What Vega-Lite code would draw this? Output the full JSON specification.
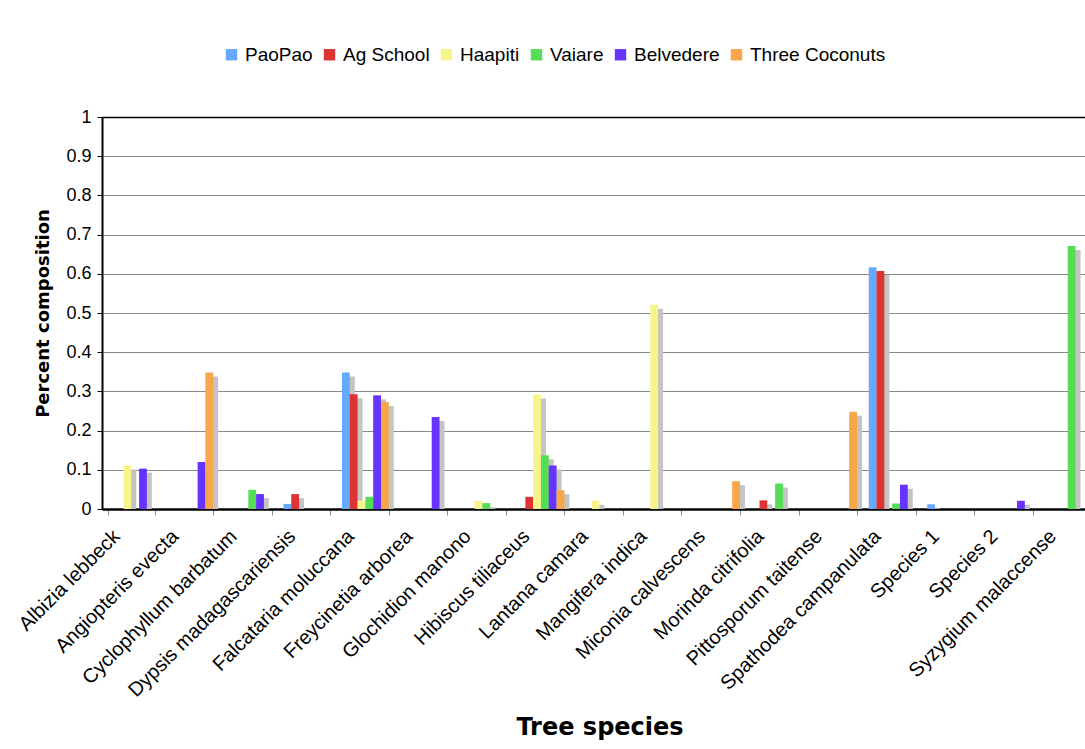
{
  "$schema": "https://vega.github.io/schema/vega-lite/v6.json",
  "width": 983,
  "height": 392,
  "autosize": {"type": "none"},
  "padding": {"left": 102, "top": 117, "right": 0, "bottom": 240},
  "background": "white",
  "config": {
    "view": {"stroke": null},
    "font": "Liberation Sans"
  },
  "data": {
    "values": [
      {"species": "Albizia lebbeck", "site": "Haapiti", "value": 0.111},
      {"species": "Albizia lebbeck", "site": "Belvedere", "value": 0.103},
      {"species": "Angiopteris evecta", "site": "Belvedere", "value": 0.12},
      {"species": "Angiopteris evecta", "site": "Three Coconuts", "value": 0.348},
      {"species": "Cyclophyllum barbatum", "site": "Vaiare", "value": 0.049},
      {"species": "Cyclophyllum barbatum", "site": "Belvedere", "value": 0.038},
      {"species": "Dypsis madagascariensis", "site": "PaoPao", "value": 0.013},
      {"species": "Dypsis madagascariensis", "site": "Ag School", "value": 0.038},
      {"species": "Falcataria moluccana", "site": "PaoPao", "value": 0.348},
      {"species": "Falcataria moluccana", "site": "Ag School", "value": 0.293},
      {"species": "Falcataria moluccana", "site": "Haapiti", "value": 0.021},
      {"species": "Falcataria moluccana", "site": "Vaiare", "value": 0.031},
      {"species": "Falcataria moluccana", "site": "Belvedere", "value": 0.29},
      {"species": "Falcataria moluccana", "site": "Three Coconuts", "value": 0.273},
      {"species": "Freycinetia arborea", "site": "Belvedere", "value": 0.235},
      {"species": "Glochidion manono", "site": "Haapiti", "value": 0.021},
      {"species": "Glochidion manono", "site": "Vaiare", "value": 0.015},
      {"species": "Hibiscus tiliaceus", "site": "Ag School", "value": 0.031},
      {"species": "Hibiscus tiliaceus", "site": "Haapiti", "value": 0.292},
      {"species": "Hibiscus tiliaceus", "site": "Vaiare", "value": 0.137},
      {"species": "Hibiscus tiliaceus", "site": "Belvedere", "value": 0.111},
      {"species": "Hibiscus tiliaceus", "site": "Three Coconuts", "value": 0.048},
      {"species": "Lantana camara", "site": "Haapiti", "value": 0.021},
      {"species": "Mangifera indica", "site": "Haapiti", "value": 0.521},
      {"species": "Miconia calvescens", "site": "Three Coconuts", "value": 0.071},
      {"species": "Morinda citrifolia", "site": "Ag School", "value": 0.022},
      {"species": "Morinda citrifolia", "site": "Vaiare", "value": 0.065},
      {"species": "Pittosporum taitense", "site": "Three Coconuts", "value": 0.248},
      {"species": "Spathodea campanulata", "site": "PaoPao", "value": 0.617},
      {"species": "Spathodea campanulata", "site": "Ag School", "value": 0.607},
      {"species": "Spathodea campanulata", "site": "Vaiare", "value": 0.014},
      {"species": "Spathodea campanulata", "site": "Belvedere", "value": 0.062},
      {"species": "Species 1", "site": "PaoPao", "value": 0.012},
      {"species": "Species 2", "site": "Belvedere", "value": 0.021},
      {"species": "Syzygium malaccense", "site": "Vaiare", "value": 0.671}
    ]
  },
  "encoding": {
    "x": {
      "field": "species",
      "type": "nominal",
      "scale": {
        "domain": ["Albizia lebbeck", "Angiopteris evecta", "Cyclophyllum barbatum", "Dypsis madagascariensis", "Falcataria moluccana", "Freycinetia arborea", "Glochidion manono", "Hibiscus tiliaceus", "Lantana camara", "Mangifera indica", "Miconia calvescens", "Morinda citrifolia", "Pittosporum taitense", "Spathodea campanulata", "Species 1", "Species 2", "Syzygium malaccense"],
        "range": [0, 995],
        "paddingInner": 0.2,
        "paddingOuter": 0.1
      },
      "axis": {
        "title": "Tree species",
        "titleFont": "DejaVu Sans",
        "titleFontSize": 24,
        "titleFontWeight": "bold",
        "titleColor": "black",
        "titlePadding": 15,
        "labelAngle": -45,
        "labelAlign": "right",
        "labelBaseline": "middle",
        "labelFontSize": 20,
        "labelColor": "black",
        "labelPadding": 18,
        "labelOffset": -15,
        "labelLimit": 0,
        "labelOverlap": false,
        "tickBand": "extent",
        "tickColor": "#888888",
        "tickSize": 6,
        "domainColor": "black",
        "domainWidth": 2.5,
        "grid": false
      }
    },
    "y": {
      "field": "value",
      "type": "quantitative",
      "scale": {"domain": [0, 1], "nice": false},
      "axis": {
        "title": "Percent composition",
        "titleFont": "DejaVu Sans",
        "titleFontSize": 18,
        "titleFontWeight": "bold",
        "titleColor": "black",
        "titlePadding": 13,
        "values": [0, 0.1, 0.2, 0.3, 0.4, 0.5, 0.6, 0.7, 0.8, 0.9, 1],
        "format": "~g",
        "labelFontSize": 18,
        "labelColor": "black",
        "labelPadding": 6,
        "tickSize": 5,
        "tickColor": "black",
        "domainColor": "black",
        "domainWidth": 2,
        "grid": true,
        "gridColor": {"condition": {"test": "datum.value === 1", "value": "black"}, "value": "#8a8a8a"},
        "gridWidth": {"condition": {"test": "datum.value === 1", "value": 1.5}, "value": 1}
      }
    }
  },
  "layer": [
    {
      "mark": {"type": "bar", "color": "#c4c4c4", "yOffset": 4, "y2Offset": 0},
      "encoding": {
        "xOffset": {
          "field": "site",
          "type": "nominal",
          "scale": {"domain": ["PaoPao", "Ag School", "Haapiti", "Vaiare", "Belvedere", "Three Coconuts"], "range": [5, 51.8], "paddingInner": 0, "paddingOuter": 0}
        },
        "y2": {"datum": 0}
      }
    },
    {
      "mark": {"type": "bar"},
      "encoding": {
        "xOffset": {
          "field": "site",
          "type": "nominal",
          "scale": {"domain": ["PaoPao", "Ag School", "Haapiti", "Vaiare", "Belvedere", "Three Coconuts"], "paddingInner": 0, "paddingOuter": 0}
        },
        "color": {
          "field": "site",
          "type": "nominal",
          "scale": {
            "domain": ["PaoPao", "Ag School", "Haapiti", "Vaiare", "Belvedere", "Three Coconuts"],
            "range": ["#66aaff", "#dd3333", "#f8f48c", "#55dd55", "#6633ff", "#f8a64a"]
          },
          "legend": {
            "title": null,
            "orient": "none",
            "legendX": 120,
            "legendY": -72,
            "direction": "horizontal",
            "symbolType": "square",
            "symbolSize": 130,
            "symbolStrokeWidth": 0,
            "symbolOpacity": 1,
            "labelFontSize": 19,
            "labelColor": "black",
            "labelOffset": 4,
            "columnPadding": 7
          }
        }
      }
    }
  ],
  "resolve": {"scale": {"xOffset": "independent"}}
}
